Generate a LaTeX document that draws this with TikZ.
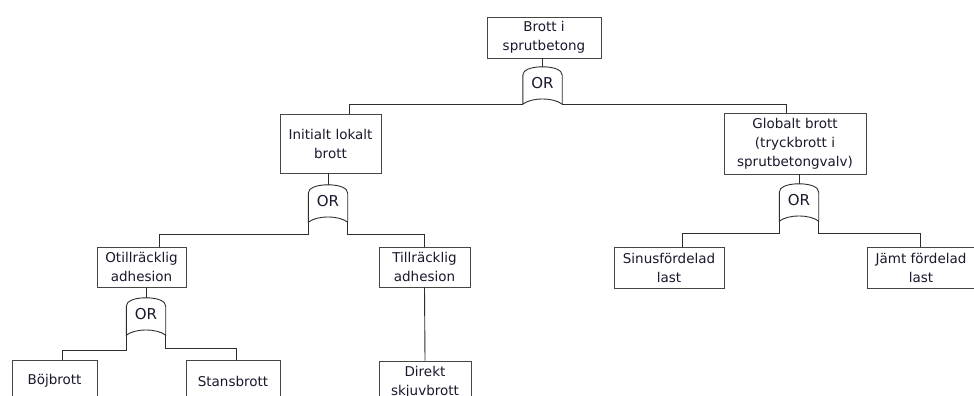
\documentclass[tikz,border=0pt]{standalone}
\usepackage{fontspec}
\setmainfont{DejaVu Sans}
\definecolor{inkline}{RGB}{45,45,45}
\definecolor{boxline}{RGB}{70,70,70}
\definecolor{inktext}{RGB}{25,25,45}
\begin{document}
\begin{tikzpicture}[x=1pt,y=-1pt,
  event/.style={draw=boxline,line width=0.9pt,fill=white,align=center,
    inner sep=0pt,text=inktext,font=\fontsize{13.5}{19}\selectfont},
  orgate/.style={minimum width=39pt,minimum height=37pt,inner sep=0pt},
  gatelabel/.style={text=inktext,font=\fontsize{15}{16}\selectfont},
  gatestroke/.style={draw=inkline,line width=0.9pt,fill=white},
  wire/.style={draw=inkline,line width=0.9pt}]
\useasboundingbox (0,0) rectangle (974,396);

% events
\node[event,minimum width=114pt,minimum height=41pt] (top) at (544,37.5) {Brott i\\sprutbetong};
\node[event,minimum width=101pt,minimum height=59pt] (ilb) at (330.5,143.5) {Initialt lokalt\\brott};
\node[event,minimum width=142pt,minimum height=61pt] (glb) at (795,143.5) {Globalt brott\\(tryckbrott i\\sprutbetongvalv)};
\node[event,minimum width=89pt,minimum height=40pt] (otad) at (141.5,267) {Otillräcklig\\adhesion};
\node[event,minimum width=91pt,minimum height=40pt] (tiad) at (424.5,267) {Tillräcklig\\adhesion};
\node[event,minimum width=110pt,minimum height=41pt] (sinus) at (669,267.5) {Sinusfördelad\\last};
\node[event,minimum width=108pt,minimum height=41pt] (jamt) at (921,267.5) {Jämt fördelad\\last};
\node[event,minimum width=85pt,minimum height=42pt] (bojb) at (54.5,381) {Böjbrott};
\node[event,minimum width=94pt,minimum height=42pt] (stans) at (233,381) {Stansbrott};
\node[event,minimum width=92pt,minimum height=42pt] (direkt) at (425,382) {Direkt\\skjuvbrott};

% OR gates
\node[orgate] (g1) at (542.5,85.5) {};
\node[orgate] (g2) at (328,203.5) {};
\node[orgate] (g3) at (799,202.5) {};
\node[orgate] (g4) at (146,316.5) {};
\foreach \g in {g1,g2,g3,g4}{
  \draw[gatestroke] (\g.south west) -- ([yshift=29pt]\g.south west)
    .. controls ([yshift=34pt]\g.south west) and ([xshift=-12pt]\g.north) .. (\g.north)
    .. controls ([xshift=12pt]\g.north) and ([yshift=34pt]\g.south east) .. ([yshift=29pt]\g.south east)
    -- (\g.south east)
    .. controls ([xshift=-9pt,yshift=7pt]\g.south east) and ([xshift=9pt,yshift=7pt]\g.south west) .. (\g.south west) -- cycle;
  \node[gatelabel] at ([yshift=2pt]\g.center) {OR};
}

% connectors into the gates
\draw[wire] (top.south -| g1.north) -- (g1.north);
\draw[wire] (ilb.south -| g2.north) -- (g2.north);
\draw[wire] (glb.south -| g3.north) -- (g3.north);
\draw[wire] (otad.south -| g4.north) -- (g4.north);

% connectors out of the gates
\draw[wire] (g1.south west) -| ([xshift=18.5pt]ilb.north);
\draw[wire] (g1.south east) -| ([xshift=-9pt]glb.north);
\draw[wire] (g2.south west) -- ++(0,12) -| ([xshift=17.5pt]otad.north);
\draw[wire] (g2.south east) -- ++(0,12) -| (tiad.north);
\draw[wire] (g3.south west) -- ++(0,12) -| ([xshift=13pt]sinus.north);
\draw[wire] (g3.south east) -- ++(0,12) -| ([xshift=-1pt]jamt.north);
\draw[wire] (g4.south west) -- ++(0,15) -| ([xshift=7.5pt]bojb.north);
\draw[wire] (g4.south east) -- ++(0,13) -| ([xshift=3pt]stans.north);
\draw[wire] (tiad.south) -- (direkt.north);
\end{tikzpicture}
\end{document}
